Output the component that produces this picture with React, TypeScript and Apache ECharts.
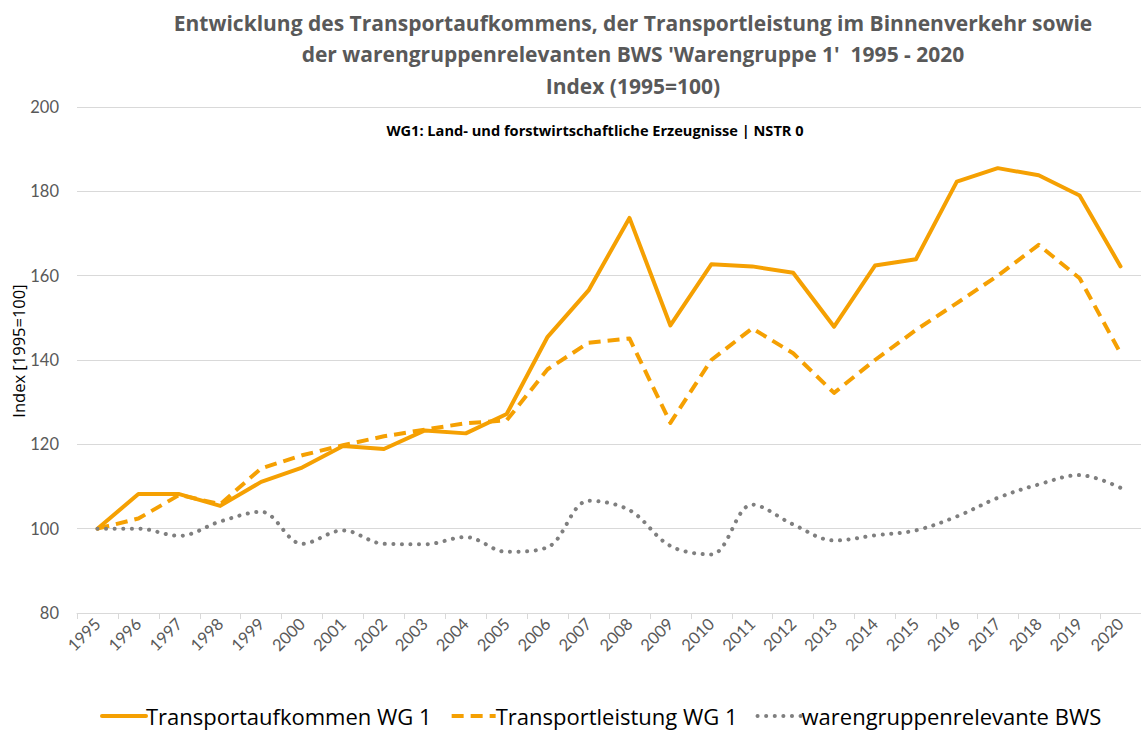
import React, { useEffect, useRef } from "react";
import * as echarts from "echarts";

const years = ["1995","1996","1997","1998","1999","2000","2001","2002","2003","2004","2005","2006","2007","2008","2009","2010","2011","2012","2013","2014","2015","2016","2017","2018","2019","2020"];
const transportaufkommen = [100, 108.2, 108.2, 105.4, 111.1, 114.5, 119.6, 118.9, 123.3, 122.6, 127.2, 145.5, 156.5, 173.7, 148.2, 162.7, 162.2, 160.7, 147.9, 162.4, 163.9, 182.3, 185.5, 183.8, 179.0, 162.2];
const transportleistung = [100, 102.4, 108.0, 105.8, 114.3, 117.4, 119.8, 121.9, 123.5, 125.0, 125.7, 137.8, 144.1, 145.1, 125.1, 140.0, 147.5, 141.6, 132.2, 140.0, 147.1, 153.5, 160.0, 167.3, 159.4, 141.6];
const bws = [100, 100.0, 98.3, 101.7, 104.0, 96.4, 99.6, 96.4, 96.3, 98.0, 94.5, 95.6, 106.6, 104.4, 95.9, 93.9, 105.7, 101.0, 97.2, 98.4, 99.6, 102.9, 107.3, 110.5, 112.7, 109.7];
const seriesNames = ["Transportaufkommen WG 1", "Transportleistung WG 1", "warengruppenrelevante BWS"];
const titleText = "Entwicklung des Transportaufkommens, der Transportleistung im Binnenverkehr sowie\nder warengruppenrelevanten BWS 'Warengruppe 1'  1995 - 2020\nIndex (1995=100)";
const subtitleText = "WG1: Land- und forstwirtschaftliche Erzeugnisse | NSTR 0";
const yAxisTitle = "Index [1995=100]";

const ORANGE = "#F5A002";
const GRAY = "#7F7F7F";
const FONT = "Lato, 'Open Sans', sans-serif";
const FONT2 = "'Open Sans', sans-serif";

export default function App() {
  const ref = useRef<HTMLDivElement>(null);
  useEffect(() => {
    if (!ref.current) return;
    const chart = echarts.init(ref.current, undefined, { renderer: "svg" });
    chart.setOption({
      animation: false,
      backgroundColor: "#ffffff",
      textStyle: { fontFamily: FONT },
      title: [
        {
          text: titleText,
          left: 628,
          textAlign: "center",
          top: 2,
          textStyle: { fontFamily: FONT2, fontSize: 21, fontWeight: "bold", color: "#595959", lineHeight: 31.5 },
        },
        {
          text: subtitleText,
          left: 590,
          textAlign: "center",
          top: 117,
          textStyle: { fontFamily: FONT2, fontSize: 14.6, fontWeight: "bold", color: "#000000" },
        },
      ],
      graphic: [
        {
          type: "text",
          x: 18,
          y: 351,
          rotation: Math.PI / 2,
          style: {
            text: yAxisTitle,
            fontFamily: FONT2,
            fontSize: 16.5,
            fill: "#000000",
            align: "center",
            verticalAlign: "middle",
          },
        },
      ],
      legend: {
        bottom: 1,
        left: 95,
        itemWidth: 44,
        itemHeight: 12,
        itemGap: 18,
        itemStyle: { opacity: 0 },
        lineStyle: { width: 4 },
        textStyle: { fontFamily: FONT2, fontSize: 22, color: "#000000", padding: [0, 0, 0, -5] },
        data: seriesNames,
      },
      grid: { left: 77, right: -5, top: 107, bottom: 120, containLabel: false },
      xAxis: {
        type: "category",
        data: years,
        boundaryGap: true,
        axisLine: { lineStyle: { color: "#D9D9D9", width: 1 } },
        axisTick: { show: true, length: 6, lineStyle: { color: "#D9D9D9" } },
        axisLabel: { rotate: 45, interval: 0, fontSize: 16.5, color: "#595959", fontFamily: FONT, margin: 8 },
      },
      yAxis: {
        type: "value",
        min: 80,
        max: 200,
        interval: 20,
        axisLine: { show: false },
        axisTick: { show: false },
        axisLabel: { fontSize: 16.5, color: "#595959", fontFamily: FONT, margin: 18 },
        splitLine: { lineStyle: { color: "#D9D9D9", width: 1 } },
      },
      series: [
        {
          name: seriesNames[0],
          type: "line",
          data: transportaufkommen,
          symbol: "none",
          lineStyle: { color: ORANGE, width: 4, cap: "round", join: "round" },
          itemStyle: { color: ORANGE },
        },
        {
          name: seriesNames[1],
          type: "line",
          data: transportleistung,
          symbol: "none",
          lineStyle: { color: ORANGE, width: 4, type: [12, 7], join: "round" },
          itemStyle: { color: ORANGE },
        },
        {
          name: seriesNames[2],
          type: "line",
          data: bws,
          symbol: "none",
          smooth: 0.35,
          lineStyle: { color: GRAY, width: 4, type: [0.1, 8.5], cap: "round" },
          itemStyle: { color: GRAY },
        },
      ],
    });
    return () => chart.dispose();
  }, []);
  return <div ref={ref} style={{ width: 1141, height: 733, position: "absolute", left: 0, top: 0 }} />;
}
